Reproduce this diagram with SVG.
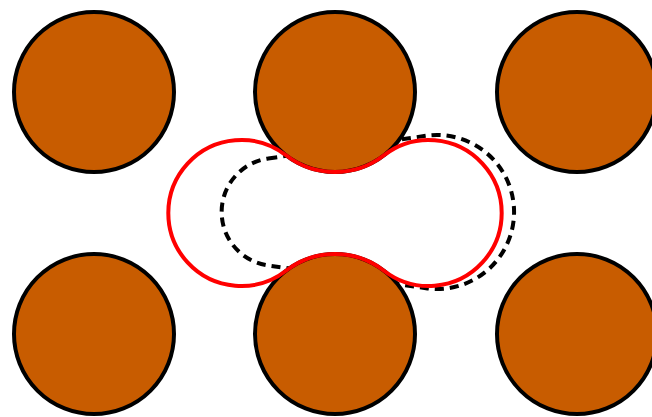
<svg xmlns="http://www.w3.org/2000/svg" width="652" height="417" viewBox="0 0 652 417">
<style>
.grain{fill:#C85C00;stroke:#000;stroke-width:4}
.pore{fill:none;stroke:#000;stroke-width:4;stroke-dasharray:9 6}
.bubble{fill:none;stroke:#F00;stroke-width:4}
</style>
<rect width="652" height="417" fill="#fff"/>
<g id="connectors">
<path id="dashed-outline" class="pore" d="M 268.3 158.5 L 426 135.8 A 77 77 0 1 1 426 288.2 L 268.3 265.5 A 54 54 0 0 1 268.3 158.5 Z"/>
</g>
<g id="grain-tl"><circle class="grain" cx="94" cy="92" r="80"/></g>
<g id="grain-tm"><circle class="grain" cx="335" cy="92" r="80"/></g>
<g id="grain-tr"><circle class="grain" cx="577" cy="92" r="80"/></g>
<g id="grain-bl"><circle class="grain" cx="94" cy="334" r="80"/></g>
<g id="grain-bm"><circle class="grain" cx="335" cy="334" r="80"/></g>
<g id="grain-br"><circle class="grain" cx="577" cy="334" r="80"/></g>
<g id="red-bubble">
<path class="bubble" d="M 286 155.28 A 80.04 80.04 0 0 0 384 155.28 A 73 73 0 1 1 384 270.72 A 80.04 80.04 0 0 0 286 270.72 A 73 73 0 1 1 286 155.28 Z"/>
</g>
</svg>
